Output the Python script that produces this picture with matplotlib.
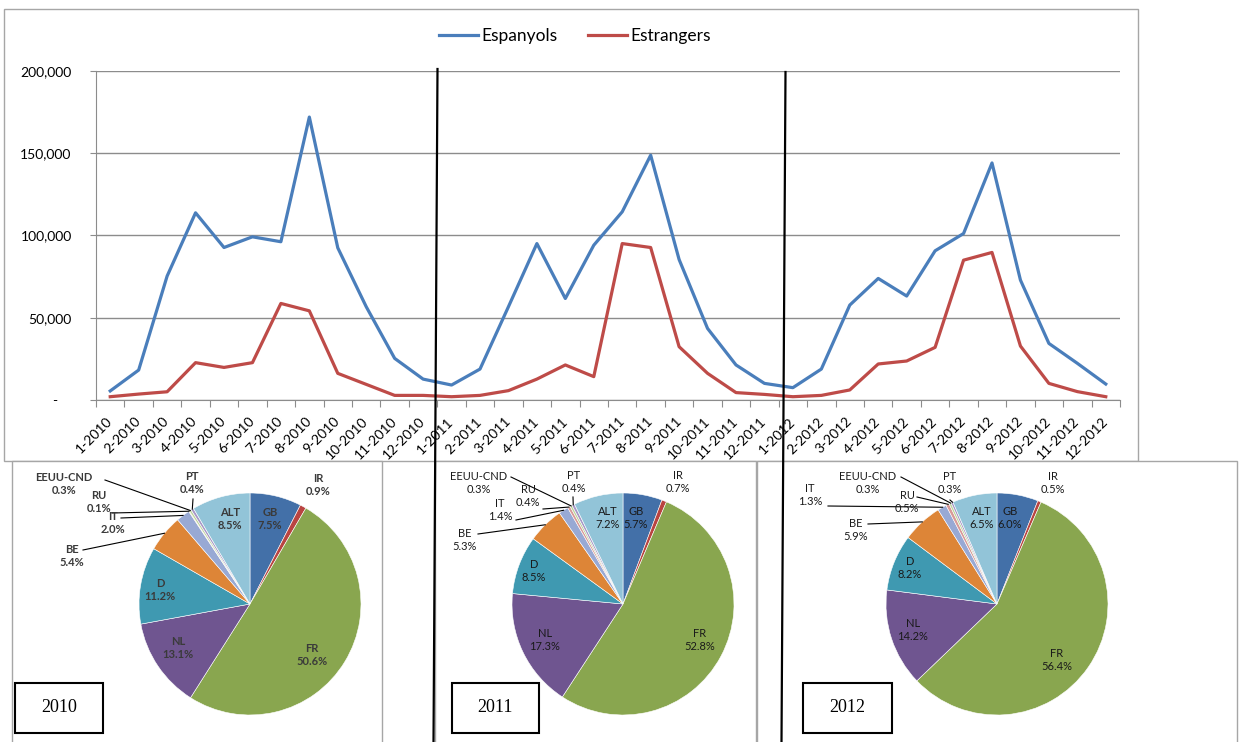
import numpy as np
import matplotlib
matplotlib.use("Agg")
import matplotlib.pyplot as plt
from matplotlib.patches import Rectangle
from matplotlib.lines import Line2D
from matplotlib.ticker import FuncFormatter

plt.rcParams['font.family'] = ['Lato', 'DejaVu Sans']

# ---- data -----------------------------------------------------------
years = [2010, 2011, 2012]
months = [f"{m}-{y}" for y in years for m in range(1, 13)]

espanyols = [5500, 18200, 75300, 113800, 92700, 99200, 96200, 172000, 92500, 56700, 25300, 12700,
             9100, 18800, 56700, 95100, 61700, 94100, 114400, 148800, 85400, 43500, 21300, 10100,
             7500, 18800, 57700, 73900, 63200, 90700, 101200, 144100, 72900, 34400, 22300, 9700]
estrangers = [2000, 3600, 5000, 22700, 19800, 22700, 58700, 54200, 16200, 9500, 2800, 2800,
              2000, 2800, 5700, 12700, 21300, 14200, 95100, 92700, 32400, 16200, 4500, 3400,
              2000, 2800, 6100, 21900, 23700, 32000, 85000, 89700, 32800, 10100, 5100, 2000]

countries = ["GB", "IR", "FR", "NL", "D", "BE", "IT", "RU", "EEUU-CND", "PT", "ALT"]
share_2010 = [7.5, 0.9, 50.6, 13.1, 11.2, 5.4, 2.0, 0.1, 0.3, 0.4, 8.5]
share_2011 = [5.7, 0.7, 52.8, 17.3, 8.5, 5.3, 1.4, 0.4, 0.3, 0.4, 7.2]
share_2012 = [6.0, 0.5, 56.4, 14.2, 8.2, 5.9, 1.3, 0.5, 0.3, 0.3, 6.5]
shares = [share_2010, share_2011, share_2012]

pie_colors = ["#4370A8", "#B94441", "#89A64F", "#6F5590", "#3F99B1", "#DD8537",
              "#98A9D4", "#D89A98", "#BDD49A", "#A898C6", "#92C4D8"]

# ---- layout helpers (pixel positions of the reference) ---------------
W, H = 1239, 742
def fx(x):
    return x / W
def fy(y):
    return 1 - y / H

fig = plt.figure(figsize=(W / 100, H / 100), dpi=100)

# chart area frame
fig.add_artist(Rectangle((fx(4), fy(461)), fx(1138 - 4), (461 - 9) / H, transform=fig.transFigure,
                         fill=False, edgecolor="#A6A6A6", linewidth=1, zorder=1))

# ---- line chart -------------------------------------------------------
ax = fig.add_axes([fx(96), fy(400), (1120 - 96) / W, (400 - 71) / H])
x = np.arange(len(months))
l1, = ax.plot(x, espanyols, color="#4A7EBB", linewidth=2.3, label="Espanyols")
l2, = ax.plot(x, estrangers, color="#BE4B48", linewidth=2.3, label="Estrangers")
ax.set_xlim(-0.5, len(months) - 0.5)
ax.set_ylim(0, 200000)
ax.set_yticks(np.arange(0, 200001, 50000))
ax.yaxis.set_major_formatter(FuncFormatter(lambda v, p: "-    " if v == 0 else f"{v:,.0f}"))
ax.grid(axis="y", color="#8C8C8C", linewidth=1)
ax.set_axisbelow(True)
for s in ["top", "right"]:
    ax.spines[s].set_visible(False)
ax.spines["left"].set_color("#8C8C8C")
ax.spines["bottom"].set_color("#8C8C8C")
ax.set_xticks(np.arange(-0.5, len(months), 1.0))
ax.set_xticklabels([])
ax.set_xticks(x, minor=True)
ax.set_xticklabels(months, minor=True, rotation=45, ha="right", va="center",
                   rotation_mode="anchor", fontsize=10)
ax.tick_params(axis="x", which="major", length=5, color="#8C8C8C")
ax.tick_params(axis="x", which="minor", length=0, pad=14)
ax.tick_params(axis="y", length=4.5, color="#8C8C8C", labelsize=10, pad=13)

fig.legend(handles=[l1, l2], loc="center", bbox_to_anchor=(fx(575), fy(36)), ncol=2,
           frameon=False, fontsize=12.5, handlelength=2.2, columnspacing=1.8, handletextpad=0.2)

# ---- pies -------------------------------------------------------------
frames = [(12, 382), (435, 756), (757, 1237)]
centers = [(250, 604), (623, 604), (997, 604)]
R = 111
year_boxes = [(15, 103), (452, 539), (803, 892)]

label_pos = [
    {"GB": (270, 519), "IR": (318, 485), "FR": (312, 655), "NL": (178, 648), "D": (160, 590),
     "BE": (72, 556), "IT": (113, 523), "RU": (99, 502), "EEUU-CND": (64, 484), "PT": (192, 483),
     "ALT": (230, 519)},
    {"GB": (636, 518), "IR": (678, 482), "FR": (700, 640), "NL": (545, 640), "D": (534, 571),
     "BE": (465, 540), "IT": (500, 510), "RU": (528, 496), "EEUU-CND": (479, 483), "PT": (574, 482),
     "ALT": (608, 518)},
    {"GB": (1010, 518), "IR": (1053, 483), "FR": (1057, 660), "NL": (913, 630), "D": (910, 568),
     "BE": (856, 530), "IT": (810, 495), "RU": (907, 502), "EEUU-CND": (868, 483), "PT": (950, 483),
     "ALT": (982, 518)},
]
leader_start = [
    {"PT": (193, 499), "EEUU-CND": (105, 480), "RU": (112, 513), "IT": (121, 518), "BE": (83, 550)},
    {"PT": (573, 497), "EEUU-CND": (511, 477), "RU": (543, 509), "IT": (516, 520), "BE": (478, 534)},
    {"PT": (950, 500), "EEUU-CND": (901, 477), "RU": (917, 497), "IT": (828, 506), "BE": (868, 524)},
]

for i, vals in enumerate(shares):
    x0, x1 = frames[i]
    fig.add_artist(Rectangle((fx(x0), fy(750)), fx(x1 - x0), (750 - 461) / H, transform=fig.transFigure,
                             facecolor="white", edgecolor="#A6A6A6", linewidth=1, zorder=2))
    cx, cy = centers[i]
    pax = fig.add_axes([fx(cx - R), fy(cy + R), 2 * R / W, 2 * R / H], zorder=5)
    pax.pie(vals, colors=pie_colors, startangle=90, counterclock=False, radius=1,
            wedgeprops=dict(edgecolor="white", linewidth=0.4))
    pax.set_xlim(-1, 1)
    pax.set_ylim(-1, 1)
    pax.set_aspect("equal")
    pax.axis("off")

    weight = "bold" if i == 0 else "normal"
    tcol = "#3A3A3A" if i == 0 else "#1A1A1A"
    cum = 0
    for name, v in zip(countries, vals):
        mid = np.deg2rad(90 - 360 * (cum + v / 2) / 100)
        cum += v
        px, py = label_pos[i][name]
        fig.text(fx(px), fy(py), f"{name}\n{v:.1f}%", ha="center", va="center", fontsize=8,
                 fontweight=weight, color=tcol, linespacing=1.25, zorder=8)
        if name in leader_start[i]:
            sx, sy = leader_start[i][name]
            ex, ey = cx + R * np.cos(mid), cy - R * np.sin(mid)
            fig.add_artist(Line2D([fx(sx), fx(ex)], [fy(sy), fy(ey)], transform=fig.transFigure,
                                  color="black", linewidth=0.8, zorder=7))

    b0, b1 = year_boxes[i]
    fig.add_artist(Rectangle((fx(b0), fy(733)), fx(b1 - b0), 50 / H, transform=fig.transFigure,
                             facecolor="white", edgecolor="black", linewidth=1.5, zorder=6))
    fig.text(fx((b0 + b1) / 2), fy(708), str(years[i]), ha="center", va="center",
             fontsize=13, family="Liberation Serif", zorder=8)

# hand-drawn year separators
for (xt, yt, xb) in [(437.5, 69, 433.5), (785.5, 72, 781.5)]:
    fig.add_artist(Line2D([fx(xt), fx(xb)], [fy(yt), fy(742)], transform=fig.transFigure,
                          color="black", linewidth=1.6, zorder=10))

fig.savefig("out.png", dpi=100)
